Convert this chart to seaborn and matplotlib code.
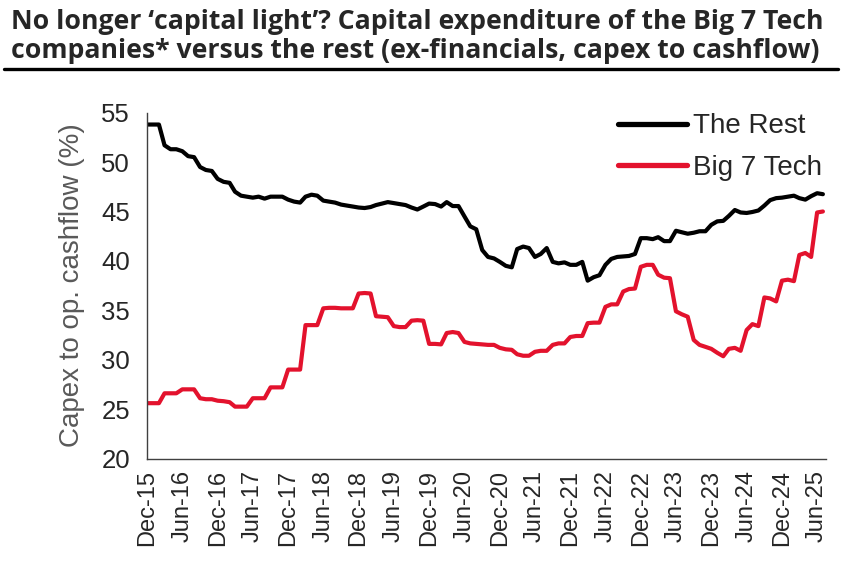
import pandas as pd
import matplotlib.pyplot as plt
import matplotlib.lines as mlines
import seaborn as sns

# Monthly capex-to-operating-cashflow ratios (%), Dec-15 to Jul-25
the_rest = [
    53.8, 53.8, 53.8, 51.7, 51.3, 51.3, 51.1, 50.6, 50.5, 49.5, 49.2, 49.1,
    48.3, 48.0, 47.9, 47.0, 46.6, 46.5, 46.4, 46.5, 46.3, 46.5, 46.5, 46.5,
    46.2, 46.0, 45.9, 46.5, 46.7, 46.6, 46.1, 46.0, 45.9, 45.7, 45.6, 45.5,
    45.4, 45.35, 45.45, 45.65, 45.8, 45.95, 45.85, 45.75, 45.65, 45.4, 45.2, 45.5,
    45.8, 45.75, 45.5, 45.95, 45.55, 45.55, 44.5, 43.5, 43.2, 41.1, 40.4, 40.25,
    39.9, 39.5, 39.35, 41.2, 41.45, 41.3, 40.4, 40.7, 41.3, 39.9, 39.75, 39.85,
    39.6, 39.6, 39.9, 38.0, 38.35, 38.55, 39.6, 40.2, 40.4, 40.45, 40.5, 40.7,
    42.3, 42.3, 42.2, 42.4, 42.0, 42.0, 43.05, 42.9, 42.75, 42.85, 43.0, 43.0,
    43.65, 44.0, 44.05, 44.55, 45.15, 44.9, 44.85, 44.95, 45.1, 45.6, 46.15, 46.35,
    46.4, 46.5, 46.6, 46.35, 46.2, 46.55, 46.85, 46.75,
]
big7_tech = [
    25.6, 25.6, 25.6, 26.6, 26.6, 26.6, 27.0, 27.0, 27.0, 26.1, 26.0, 26.0,
    25.85, 25.8, 25.7, 25.25, 25.25, 25.25, 26.1, 26.1, 26.1, 27.2, 27.2, 27.2,
    29.0, 29.0, 29.0, 33.5, 33.5, 33.5, 35.2, 35.25, 35.25, 35.2, 35.2, 35.2,
    36.7, 36.75, 36.7, 34.4, 34.35, 34.3, 33.4, 33.3, 33.3, 33.95, 34.0, 33.95,
    31.6, 31.6, 31.55, 32.7, 32.8, 32.7, 31.8, 31.65, 31.6, 31.55, 31.5, 31.5,
    31.2, 31.05, 31.0, 30.55, 30.4, 30.4, 30.8, 30.9, 30.9, 31.5, 31.65, 31.65,
    32.3, 32.4, 32.4, 33.7, 33.75, 33.75, 35.35, 35.6, 35.6, 36.9, 37.15, 37.2,
    39.4, 39.6, 39.6, 38.6, 38.3, 38.25, 34.9, 34.6, 34.35, 32.0, 31.5, 31.3,
    31.1, 30.7, 30.35, 31.1, 31.2, 30.9, 33.0, 33.6, 33.4, 36.3, 36.2, 35.9,
    38.0, 38.1, 37.95, 40.6, 40.8, 40.4, 44.9, 45.0,
]
series_names = ["The Rest", "Big 7 Tech"]
series_colors = ["#000000", "#E3122D"]
tick_labels = [
    "Dec-15", "Jun-16", "Dec-16", "Jun-17", "Dec-17", "Jun-18", "Dec-18",
    "Jun-19", "Dec-19", "Jun-20", "Dec-20", "Jun-21", "Dec-21", "Jun-22",
    "Dec-22", "Jun-23", "Dec-23", "Jun-24", "Dec-24", "Jun-25",
]
y_ticks = [20, 25, 30, 35, 40, 45, 50, 55]

title_lines = [
    "No longer \u2018capital light\u2019? Capital expenditure of the Big 7 Tech",
    "companies* versus the rest (ex-financials, capex to cashflow)",
]


def main():
    dates = pd.date_range("2015-12-01", periods=len(the_rest), freq="MS")
    df = pd.concat([
        pd.DataFrame({"date": dates, "value": the_rest, "series": series_names[0]}),
        pd.DataFrame({"date": dates, "value": big7_tech, "series": series_names[1]}),
    ], ignore_index=True)

    sns.set_style("white")
    plt.rcParams["font.family"] = ["Liberation Sans", "DejaVu Sans"]

    fig = plt.figure(figsize=(8.48, 5.74), dpi=100)
    ax = fig.add_axes([0.1733, 0.2012, 0.8007, 0.6025])

    sns.lineplot(data=df, x="date", y="value", hue="series",
                 palette=dict(zip(series_names, series_colors)),
                 linewidth=3.0, ax=ax, legend=False)

    # axes
    ax.set_ylim(20, 55)
    ax.set_yticks(y_ticks)
    ax.set_xlim(dates[0], dates[0] + pd.Timedelta(days=115.5 * 30.44))
    tick_dates = pd.date_range("2015-12-01", periods=len(tick_labels), freq="6MS")
    ax.set_xticks(tick_dates)
    ax.set_xticklabels(tick_labels, rotation=90)
    ax.set_xlabel("")
    ax.set_ylabel("Capex to op. cashflow (%)", fontsize=20, color="#595959", labelpad=12)

    for s in ["top", "right"]:
        ax.spines[s].set_visible(False)
    for s in ["left", "bottom"]:
        ax.spines[s].set_color("#404040")
        ax.spines[s].set_linewidth(1.0)
    ax.tick_params(axis="y", direction="inout", length=13.5, width=1,
                   color="#404040", labelsize=18.5, pad=5.5)
    ax.tick_params(axis="x", direction="in", length=5, width=1,
                   color="#404040", labelsize=17, pad=8)

    # legend
    handles = [mlines.Line2D([], [], color=c, linewidth=3.8) for c in series_colors]
    ax.legend(handles, series_names, loc="upper right", bbox_to_anchor=(1.01, 1.03),
              frameon=False, fontsize=20, handlelength=2.5, handletextpad=0.2,
              labelspacing=0.55, borderaxespad=0)

    # title (two lines) with rule underneath
    for line, base in zip(title_lines, [29, 58]):
        fig.text(11 / 848, 1 - base / 574, line, ha="left", va="baseline",
                 fontsize=19.2, fontweight="bold", family=["Open Sans", "DejaVu Sans"])
    fig.add_artist(mlines.Line2D([4 / 848, 838 / 848], [1 - 68.5 / 574, 1 - 68.5 / 574],
                                 color="black", linewidth=2.4, transform=fig.transFigure))

    fig.savefig("out.png", dpi=100)


if __name__ == "__main__":
    main()
